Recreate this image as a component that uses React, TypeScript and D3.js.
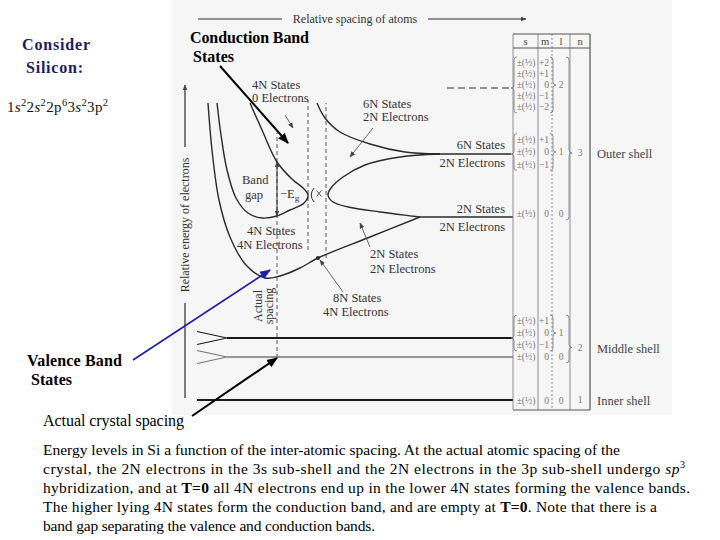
import { useEffect, useRef } from 'react';
import * as d3 from 'd3';

type Pt = [number, number];

// band envelopes, [relative spacing, relative energy]
const lowerLoop: Pt[] = [
  [13, 59.4], [15.4, 54], [18.4, 47.6], [21.6, 44], [23.6, 42.4], [24.6, 41],
  [23.8, 39.4], [21, 38], [18.4, 36.8], [15.4, 36.4], [12.6, 37.4], [10.2, 40.4],
  [8.4, 46], [7.2, 53], [6.4, 59.4],
];
const valenceBottom: Pt[] = [
  [4.6, 59.4], [5.4, 50], [6.8, 40], [9, 32.6], [12.2, 27], [16, 24.4], [19, 24.8],
  [23, 26.4], [26.6, 28.4], [37, 32.6], [47, 36.6],
];
const upperTop: Pt[] = [
  [26.4, 59.4], [28, 56.4], [31, 53.6], [37, 51.2], [44, 49.6], [51, 49.2],
];
const splitNose: Pt[] = [
  [51, 49.2], [43, 48.6], [36, 47], [31.6, 44.6], [29.2, 42.4], [28.6, 41],
  [29.6, 39.6], [32.6, 38.6], [39, 37.6], [47, 36.6],
];

// isolated-atom levels (energy) and where the flat part starts
const atomLevels = [49.2, 36.6];
const atomLevelStart = [47, 47];
const dLevel = 62.4;
const coreLevels = [12.4, 8.6, 0];

// dashed guides: spacing, bottom energy, top energy
const guideU = [18.4, 24.6, 28.2];
const guideLow = [8.4, 30, 28.4];
const guideHigh = [53.4, 60, 59.4];
const bandGap = [36.8, 47.6];

// quantum number table
const tableHeader = ['s', 'm', 'l', 'n'];
const subshellM = [
  ['+2', '+1', '0', '−1', '−2'], ['+1', '0', '−1'], ['0'],
  ['+1', '0', '−1'], ['0'],
  ['0'],
];
const subshellL = ['2', '1', '0', '1', '0', '0'];
const subshellE = [62.4, 49.2, 36.6, 12.4, 8.6, 0];
const subshellShell = [0, 0, 0, 1, 1, 2];
const shellNames = ['Outer shell', 'Middle shell', 'Inner shell'];
const shellN = ['3', '2', '1'];

const orbitals = [['1', 's', '2'], ['2', 's', '2'], ['2', 'p', '6'], ['3', 's', '2'], ['3', 'p', '2']];

const captionLines = [
  [{ t: 'Energy levels in Si a function of the inter-atomic spacing. At the actual atomic spacing of the' }],
  [{ t: 'crystal, the 2N electrons in the 3s sub-shell and the 2N electrons in the 3p sub-shell undergo ' }, { t: 'sp', i: true }, { t: '3', sup: true }],
  [{ t: 'hybridization, and at ' }, { t: 'T=0', b: true }, { t: ' all 4N electrons end up in the lower 4N states forming the valence bands.' }],
  [{ t: 'The higher lying 4N states form the conduction band, and are empty at ' }, { t: 'T=0', b: true }, { t: '. Note that there is a' }],
  [{ t: 'band gap separating the valence and conduction bands.' }],
];
const captionEnds = [620, 685, 690, 657, 375];

const SERIF = '"Liberation Serif", "Times New Roman", serif';

function brace(x: number, y1: number, y2: number, ym: number, w: number, dir: number) {
  const q = w * dir, h = q / 2, r = 3;
  return `M${x},${y1} Q${x + h},${y1} ${x + h},${y1 + r} L${x + h},${ym - r} Q${x + h},${ym} ${x + q},${ym} ` +
    `Q${x + h},${ym} ${x + h},${ym + r} L${x + h},${y2 - r} Q${x + h},${y2} ${x},${y2}`;
}

export default function App() {
  const svgRef = useRef<SVGSVGElement>(null);

  useEffect(() => {
    if (!svgRef.current) return;
    document.body.style.margin = '0';
    const svg = d3.select(svgRef.current);
    svg.selectAll('*').remove();

    const x = d3.scaleLinear().domain([0, 65]).range([185, 510]);
    const y = d3.scaleLinear().domain([0, 63]).range([400, 85]);
    const ink = '#2a2a2a';
    const txt = '#333';

    const defs = svg.append('defs');
    const mk = (id: string, color: string, size: number) => {
      defs.append('marker')
        .attr('id', id)
        .attr('viewBox', '0 0 10 10')
        .attr('refX', 9).attr('refY', 5)
        .attr('markerUnits', 'userSpaceOnUse')
        .attr('markerWidth', size).attr('markerHeight', size)
        .attr('orient', 'auto-start-reverse')
        .append('path').attr('d', 'M0,1 L10,5 L0,9 z').attr('fill', color);
    };
    mk('ah-black', '#000', 11);
    mk('ah-blue', '#1e1ea8', 11);
    mk('ah-small', '#444', 6);

    // diagram paper
    svg.append('rect').attr('x', 172).attr('y', 0).attr('width', 500).attr('height', 415).attr('fill', '#f6f6f6');

    const g = svg.append('g');
    const line = d3.line<Pt>().x(d => x(d[0])).y(d => y(d[1])).curve(d3.curveCatmullRom.alpha(0.5));
    const straight = d3.line<Pt>().x(d => x(d[0])).y(d => y(d[1]));

    // top spacing axis
    g.append('line').attr('x1', 198).attr('x2', 282).attr('y1', 19).attr('y2', 19).attr('stroke', ink).attr('stroke-width', 1);
    g.append('line').attr('x1', 428).attr('x2', 526).attr('y1', 19).attr('y2', 19).attr('stroke', ink).attr('stroke-width', 1)
      .attr('marker-end', 'url(#ah-small)');
    g.append('text').attr('x', 355).attr('y', 23).attr('text-anchor', 'middle')
      .attr('font-family', SERIF).attr('font-size', 12).attr('fill', txt).text('Relative spacing of atoms');

    // energy axis
    g.append('line').attr('x1', x(0)).attr('x2', x(0)).attr('y1', y(19.4)).attr('y2', y(0.4)).attr('stroke', ink).attr('stroke-width', 1.2);
    g.append('line').attr('x1', x(0)).attr('x2', x(0)).attr('y1', y(50.6)).attr('y2', y(63)).attr('stroke', ink).attr('stroke-width', 1.2)
      .attr('marker-end', 'url(#ah-small)');
    g.append('text').attr('transform', `translate(${x(0) + 4},${y(35)}) rotate(-90)`).attr('text-anchor', 'middle')
      .attr('font-family', SERIF).attr('font-size', 12).attr('fill', txt).text('Relative energy of electrons');

    // dashed guides
    guideU.forEach((u, i) => {
      g.append('line').attr('x1', x(u)).attr('x2', x(u)).attr('y1', y(guideLow[i])).attr('y2', y(guideHigh[i]))
        .attr('stroke', '#444').attr('stroke-width', 0.9).attr('stroke-dasharray', '4,3');
    });

    // band curves
    [lowerLoop, valenceBottom, upperTop, splitNose].forEach(pts => {
      g.append('path').attr('d', line(pts)).attr('fill', 'none').attr('stroke', ink).attr('stroke-width', 1.4);
    });

    // crossing detail between the two noses
    g.append('path').attr('d', `M${x(25.8)},${y(42.4)} Q${x(24.7)},${y(41)} ${x(25.8)},${y(39.6)}`)
      .attr('fill', 'none').attr('stroke', ink).attr('stroke-width', 1);
    g.append('path').attr('d', `M${x(26.3)},${y(41.9)} L${x(27.3)},${y(40.7)} M${x(26.3)},${y(40.7)} L${x(27.3)},${y(41.9)}`)
      .attr('stroke', ink).attr('stroke-width', 0.8);

    // flat atomic levels
    atomLevels.forEach((e, i) => {
      g.append('path').attr('d', straight([[atomLevelStart[i], e], [i === 0 ? 65.2 : 65.6, e]]))
        .attr('stroke', ink).attr('stroke-width', 1.4).attr('fill', 'none');
    });
    g.append('path').attr('d', straight([[52.4, dLevel], [65.2, dLevel]]))
      .attr('stroke', ink).attr('stroke-width', 1).attr('stroke-dasharray', '7,4').attr('fill', 'none');

    // core levels
    coreLevels.forEach((e, i) => {
      const col = i === 1 ? '#777' : '#1a1a1a';
      const sw = i === 1 ? 1.4 : 2;
      g.append('path').attr('d', straight([[8.4, e], [65.6, e]])).attr('stroke', col).attr('stroke-width', sw).attr('fill', 'none');
      if (i < 2) {
        g.append('path').attr('d', straight([[2.4, e + 1.3], [8.4, e], [2.4, e - 1.3]]))
          .attr('stroke', col).attr('stroke-width', 1.1).attr('fill', 'none');
      } else {
        g.append('path').attr('d', straight([[2.4, e], [8.4, e]])).attr('stroke', col).attr('stroke-width', sw);
      }
    });

    // band gap arrow
    g.append('line').attr('x1', x(guideU[0])).attr('x2', x(guideU[0])).attr('y1', y(bandGap[0])).attr('y2', y(bandGap[1]))
      .attr('stroke', ink).attr('stroke-width', 1)
      .attr('marker-start', 'url(#ah-small)').attr('marker-end', 'url(#ah-small)');

    // 8N marker dot
    g.append('circle').attr('cx', x(26.6)).attr('cy', y(28.4)).attr('r', 2).attr('fill', ink);

    // small label pointers
    const pointers: [Pt, Pt][] = [
      [[20, 57], [21.6, 54.4]],
      [[37.6, 54.4], [33, 48.6]],
      [[37, 30.6], [35, 35.4]],
      [[31.6, 21.6], [27, 28]],
    ];
    pointers.forEach(([a, b]) => {
      g.append('line').attr('x1', x(a[0])).attr('y1', y(a[1])).attr('x2', x(b[0])).attr('y2', y(b[1]))
        .attr('stroke', '#444').attr('stroke-width', 0.8).attr('marker-end', 'url(#ah-small)');
    });

    // in-diagram labels
    const labels: [string, number, number, string][] = [
      ['4N States', 13.4, 62.2, 'start'],
      ['0 Electrons', 13.4, 59.6, 'start'],
      ['6N States', 35.6, 58.4, 'start'],
      ['2N Electrons', 35.6, 55.8, 'start'],
      ['6N States', 64, 50.2, 'end'],
      ['2N Electrons', 64, 46.6, 'end'],
      ['Band', 11.4, 43.2, 'start'],
      ['gap', 12, 40.2, 'start'],
      ['4N States', 12.4, 33, 'start'],
      ['4N Electrons', 10.4, 30.2, 'start'],
      ['2N States', 64, 37.4, 'end'],
      ['2N Electrons', 64, 33.8, 'end'],
      ['2N States', 37, 28.4, 'start'],
      ['2N Electrons', 37, 25.4, 'start'],
      ['8N States', 29.6, 19.6, 'start'],
      ['4N Electrons', 27.6, 16.8, 'start'],
    ];
    labels.forEach(([t, u, e, a]) => {
      g.append('text').attr('x', x(u)).attr('y', y(e)).attr('text-anchor', a)
        .attr('font-family', SERIF).attr('font-size', 12.5).attr('fill', txt).text(t);
    });
    const eg = g.append('text').attr('x', x(19)).attr('y', y(40.4))
      .attr('font-family', SERIF).attr('font-size', 12.5).attr('fill', txt);
    eg.append('tspan').text('−E');
    eg.append('tspan').attr('dy', 3).attr('font-size', 9).text('g');
    [['Actual', 15.4], ['spacing', 17.6]].forEach(([t, u]) => {
      g.append('text').attr('transform', `translate(${x(u as number)},${y(18.8)}) rotate(-90)`).attr('text-anchor', 'middle')
        .attr('font-family', SERIF).attr('font-size', 12).attr('fill', txt).text(t as string);
    });

    // quantum number table
    const tb = svg.append('g');
    const cols = [513, 538, 552, 570, 590];
    const tTop = 34, tHead = 48, tBot = 410;
    const tcol = '#777';
    cols.forEach((cx, i) => {
      tb.append('line').attr('x1', cx).attr('x2', cx).attr('y1', tTop).attr('y2', tBot)
        .attr('stroke', i === 4 ? '#444' : tcol).attr('stroke-width', i === 4 ? 1.1 : 0.8)
        .attr('stroke-dasharray', i === 2 ? '2,2' : null);
    });
    [tTop, tHead, tBot].forEach(ly => {
      tb.append('line').attr('x1', cols[0]).attr('x2', cols[4]).attr('y1', ly).attr('y2', ly).attr('stroke', '#555').attr('stroke-width', 1);
    });
    tableHeader.forEach((h, i) => {
      tb.append('text').attr('x', (cols[i] + cols[i + 1]) / 2).attr('y', 45).attr('text-anchor', 'middle')
        .attr('font-family', SERIF).attr('font-size', 10.5).attr('fill', '#444').text(h);
    });

    // row block centres sit a little above their level line
    const rowShift = [-3, -2, -3, -5, 0, 1];
    const rowGaps = [11, 12.5, 12, 12, 12, 12];
    const tf = { family: SERIF, size: 9.5, fill: '#777' };
    const blockC = subshellE.map((e, i) => y(e) + rowShift[i]);
    const blockTop = subshellM.map((ms, i) => blockC[i] - ((ms.length - 1) / 2) * rowGaps[i] - 6);
    const blockBot = subshellM.map((ms, i) => blockC[i] + ((ms.length - 1) / 2) * rowGaps[i] + 6);
    subshellM.forEach((ms, si) => {
      const cy = blockC[si];
      const rows = ms.map((_, i) => cy + (i - (ms.length - 1) / 2) * rowGaps[si]);
      ms.forEach((m, i) => {
        tb.append('text').attr('x', 526).attr('y', rows[i] + 3).attr('text-anchor', 'middle')
          .attr('font-family', tf.family).attr('font-size', tf.size).attr('fill', tf.fill).text('±(½)');
        tb.append('text').attr('x', 549).attr('y', rows[i] + 3).attr('text-anchor', 'end')
          .attr('font-family', tf.family).attr('font-size', tf.size).attr('fill', tf.fill).text(m);
      });
      tb.append('text').attr('x', 561).attr('y', cy + 3).attr('text-anchor', 'middle')
        .attr('font-family', tf.family).attr('font-size', tf.size).attr('fill', tf.fill).text(subshellL[si]);
      if (ms.length > 1) {
        tb.append('path').attr('d', brace(517, blockTop[si], blockBot[si], y(subshellE[si]), 6, -1))
          .attr('fill', 'none').attr('stroke', tcol).attr('stroke-width', 0.8);
        tb.append('path').attr('d', brace(550, blockTop[si], blockBot[si], cy, 6, 1))
          .attr('fill', 'none').attr('stroke', tcol).attr('stroke-width', 0.8);
      }
    });

    shellNames.forEach((name, k) => {
      const idx = subshellShell.map((s, i) => (s === k ? i : -1)).filter(i => i >= 0);
      const mid = d3.mean(idx, i => y(subshellE[i])) as number;
      if (idx.length > 1) {
        const top = d3.min(idx, i => blockTop[i]) as number;
        const bot = d3.max(idx, i => blockBot[i]) as number;
        tb.append('path').attr('d', brace(566, top, bot, mid, 6, 1)).attr('fill', 'none').attr('stroke', tcol).attr('stroke-width', 0.8);
      }
      tb.append('text').attr('x', 580).attr('y', mid + 3).attr('text-anchor', 'middle')
        .attr('font-family', tf.family).attr('font-size', tf.size).attr('fill', tf.fill).text(shellN[k]);
      tb.append('text').attr('x', 597).attr('y', mid + 5)
        .attr('font-family', SERIF).attr('font-size', 12.5).attr('fill', '#444').text(name);
    });

    // left side annotations
    const ann = svg.append('g').attr('font-family', SERIF);
    ann.append('text').attr('x', 22).attr('y', 50).attr('font-size', 16).attr('font-weight', 'bold').attr('fill', '#1c1c5e')
      .attr('textLength', 68).text('Consider');
    ann.append('text').attr('x', 26).attr('y', 73).attr('font-size', 16).attr('font-weight', 'bold').attr('fill', '#1c1c5e')
      .attr('textLength', 57).text('Silicon:');
    const cfg = ann.append('text').attr('x', 7).attr('y', 112).attr('font-size', 15).attr('fill', '#111')
      .attr('textLength', 101).attr('lengthAdjust', 'spacing');
    orbitals.forEach(([n, l, c], i) => {
      cfg.append('tspan').attr('dy', i === 0 ? 0 : 6).attr('font-size', 15).text(n);
      cfg.append('tspan').attr('font-style', l === 's' ? 'italic' : null).text(l);
      cfg.append('tspan').attr('dy', -6).attr('font-size', 10.5).text(c);
    });

    ann.append('text').attr('x', 190).attr('y', 43).attr('font-size', 16).attr('font-weight', 'bold').attr('fill', '#000')
      .attr('textLength', 119).text('Conduction Band');
    ann.append('text').attr('x', 193).attr('y', 62).attr('font-size', 16).attr('font-weight', 'bold').attr('fill', '#000')
      .attr('textLength', 41).text('States');
    ann.append('text').attr('x', 27).attr('y', 366).attr('font-size', 16).attr('font-weight', 'bold').attr('fill', '#000')
      .attr('textLength', 95).text('Valence Band');
    ann.append('text').attr('x', 31).attr('y', 385).attr('font-size', 16).attr('font-weight', 'bold').attr('fill', '#000')
      .attr('textLength', 41).text('States');
    ann.append('text').attr('x', 43).attr('y', 426).attr('font-size', 16).attr('fill', '#000')
      .attr('textLength', 141).text('Actual crystal spacing');

    // callout arrows
    const callouts: [number, number, number, number, string, number, string][] = [
      [220, 66, 288, 143, '#000', 2, 'ah-black'],
      [133, 360, 270, 270, '#1e1ea8', 1.6, 'ah-blue'],
      [192, 416, 277, 358, '#000', 2, 'ah-black'],
    ];
    callouts.forEach(([x1, y1, x2, y2, c, w, m]) => {
      ann.append('line').attr('x1', x1).attr('y1', y1).attr('x2', x2).attr('y2', y2)
        .attr('stroke', c).attr('stroke-width', w).attr('marker-end', `url(#${m})`);
    });

    // caption
    captionLines.forEach((segs, i) => {
      const t = ann.append('text').attr('x', 43).attr('y', 455 + i * 19).attr('font-size', 15.5).attr('fill', '#000')
        .attr('textLength', captionEnds[i] - 43).attr('lengthAdjust', 'spacing');
      segs.forEach((s: any) => {
        const sp = t.append('tspan').text(s.t);
        if (s.b) sp.attr('font-weight', 'bold');
        if (s.i) sp.attr('font-style', 'italic');
        if (s.sup) sp.attr('dy', -6).attr('font-size', 10);
      });
    });
  }, []);

  return <svg ref={svgRef} width={720} height={540} style={{ display: 'block', background: '#fff' }} />;
}
